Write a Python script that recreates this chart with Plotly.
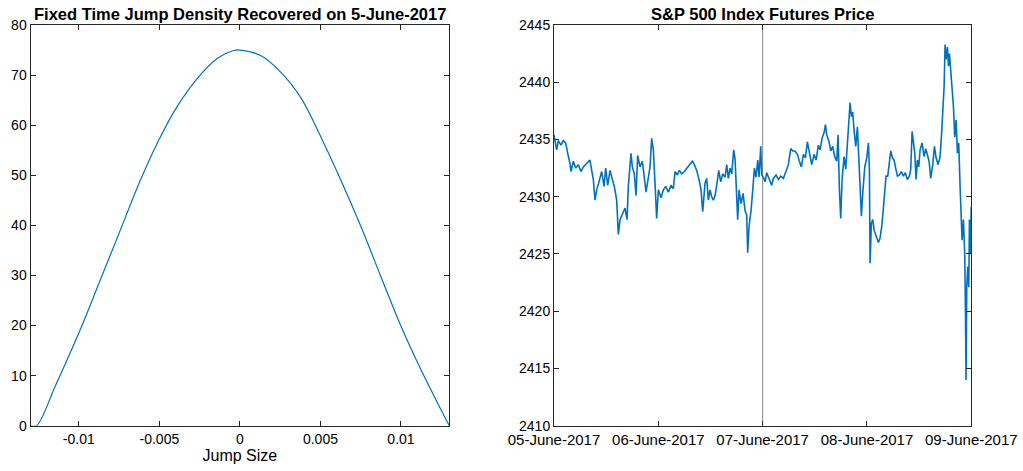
import plotly.graph_objects as go
import pandas as pd

# ---------------- Left panel data: jump density ----------------
jump_size = [-0.013, -0.01262, -0.01148, -0.00992, -0.00867, -0.00743, -0.00618,
             -0.00504, -0.00390, -0.00265, -0.00141, -0.0004, 0.0, 0.00129,
             0.00253, 0.00378, 0.00502, 0.00627, 0.00752, 0.00876, 0.01001,
             0.01125, 0.0125, 0.013]
density = [0, 0, 7.8, 19.1, 29.1, 39.0, 49.0,
           57.0, 63.7, 69.3, 73.3, 74.9, 75.0, 73.9,
           70.6, 65.5, 57.7, 49.0, 39.7, 29.7, 19.8,
           11.1, 3.1, 0]
jump_ticks = [-0.01, -0.005, 0, 0.005, 0.01]
jump_tick_text = ["-0.01", "-0.005", "0", "0.005", "0.01"]

# ---------------- Right panel data: S&P 500 futures ----------------
start_date = "2017-06-05"
# hours elapsed since 05-June-2017 00:00
price_hours = [
    0.00, 0.61, 1.00, 1.61, 2.15, 2.68, 3.15, 3.68, 3.91, 4.45,
    4.99, 5.60, 6.21, 6.75, 7.52, 8.28, 8.67, 9.05, 9.43, 9.82,
    10.35, 10.97, 11.51, 11.89, 12.35, 12.89, 13.42, 13.88, 14.42, 14.80,
    15.19, 15.72, 16.34, 16.80, 17.10, 17.72, 18.02, 18.48, 18.87, 19.25,
    19.79, 20.33, 20.79, 21.17, 21.71, 22.09, 22.47, 22.86, 23.24, 23.62,
    24.01, 24.62, 25.16, 25.70, 26.31, 26.92, 27.46, 27.84, 28.38, 28.84,
    29.38, 29.99, 30.60, 31.29, 31.83, 32.29, 32.83, 33.36, 33.83, 34.21,
    34.75, 35.13, 35.51, 35.90, 36.28, 36.66, 37.05, 37.51, 37.89, 38.35,
    38.81, 39.35, 39.73, 40.11, 40.50, 40.88, 41.34, 41.65, 41.96, 42.26,
    42.57, 43.03, 43.49, 43.95, 44.33, 44.56, 44.87, 45.33, 45.79, 46.10,
    46.48, 46.87, 47.17, 47.56, 47.79, 48.17,
    48.55, 48.94, 49.55, 50.09, 50.47, 51.08, 51.62, 52.16, 52.77, 53.38,
    53.92, 54.46, 54.92, 55.45, 55.99, 56.45, 56.91, 57.37, 57.83, 58.29,
    58.75, 59.29, 59.83, 60.29, 60.82, 61.21, 61.67, 62.13, 62.44, 62.74,
    63.28, 63.66, 64.12, 64.58, 65.04, 65.35, 65.66, 65.96, 66.27, 66.73,
    67.11, 67.50, 67.80, 68.11, 68.42, 68.72, 69.03, 69.42, 69.80, 70.11,
    70.41, 70.72, 71.03, 71.49, 71.95, 72.33, 72.56, 72.71, 73.02, 73.33,
    73.63, 74.09, 74.63, 75.01, 75.40, 75.70, 76.01, 76.39, 76.78, 77.16,
    77.47, 77.85, 78.23, 78.54, 79.00, 79.46, 79.92, 80.38, 80.84, 81.30,
    81.76, 82.07, 82.38, 82.68, 82.99, 83.30, 83.60, 83.91, 84.22, 84.68,
    85.14, 85.52, 85.91, 86.29, 86.67, 87.13, 87.52, 87.90, 88.36, 88.82,
    89.21, 89.44, 89.74,
    89.97, 90.20, 90.51, 90.74, 90.97, 91.27, 91.58, 91.89, 92.19, 92.50,
    92.81, 93.11, 93.42, 93.73, 93.88, 94.19, 94.49, 94.65, 94.80, 94.95,
    95.19, 95.42, 95.57, 95.80, 95.98]
price = [
    2435.4, 2434.1, 2434.9, 2434.5, 2434.9, 2434.7, 2433.8, 2432.9, 2432.2, 2433.1,
    2432.5, 2432.8, 2432.2, 2432.6, 2432.9, 2433.2, 2432.3, 2431.5, 2429.7, 2430.6,
    2431.3, 2432.2, 2430.9, 2432.5, 2431.0, 2432.3, 2431.5, 2430.9, 2429.7, 2426.7,
    2428.0, 2428.5, 2429.0, 2428.0, 2430.9, 2433.8, 2432.6, 2432.0, 2430.1, 2433.6,
    2432.6, 2433.1, 2431.5, 2430.4, 2431.7, 2432.6, 2435.1, 2434.1, 2431.2, 2428.1,
    2430.6, 2429.9, 2430.6, 2430.9, 2430.4, 2431.0, 2430.7, 2432.2, 2431.9, 2432.3,
    2432.0, 2432.2, 2432.5, 2432.8, 2433.1, 2432.8, 2432.3, 2431.5, 2430.6, 2428.7,
    2431.2, 2431.6, 2429.7, 2430.6, 2430.0, 2429.7, 2430.1, 2431.2, 2432.3, 2431.3,
    2432.0, 2431.7, 2432.8, 2431.6, 2432.5, 2432.0, 2434.1, 2433.3, 2431.2, 2428.0,
    2430.6, 2429.4, 2430.3, 2428.8, 2428.4, 2425.1, 2427.4, 2428.8, 2430.9, 2432.5,
    2431.7, 2433.2, 2431.7, 2434.4, 2431.9, 2431.7,
    2431.3, 2432.1, 2431.5, 2431.0, 2431.6, 2431.9, 2431.5, 2431.8, 2431.6, 2432.2,
    2432.8, 2434.2, 2434.0, 2434.0, 2433.7, 2433.1, 2432.6, 2433.7, 2433.4, 2434.8,
    2434.0, 2432.8, 2433.7, 2433.2, 2434.5, 2434.1, 2435.1, 2435.6, 2436.3, 2435.4,
    2434.8, 2434.0, 2434.4, 2433.5, 2433.1, 2435.4, 2430.6, 2428.1, 2431.5, 2433.5,
    2432.4, 2434.7, 2436.4, 2438.2, 2437.0, 2437.4, 2435.8, 2434.4, 2436.1, 2433.5,
    2430.6, 2428.3, 2430.3, 2432.6, 2433.4, 2434.7, 2432.4, 2424.2, 2427.7, 2428.0,
    2427.1, 2426.5, 2426.0, 2426.4, 2427.4, 2428.7, 2430.3, 2431.8, 2431.8, 2433.2,
    2434.0, 2433.4, 2433.2, 2432.6, 2431.8, 2431.9, 2432.2, 2431.8, 2432.1, 2431.5,
    2431.8, 2432.4, 2435.7, 2434.8, 2433.8, 2431.5, 2433.2, 2432.6, 2434.1, 2434.7,
    2433.5, 2434.2, 2433.7, 2433.1, 2431.6, 2432.8, 2434.4, 2433.4, 2432.8, 2433.5,
    2435.8, 2437.6, 2439.6,
    2443.3, 2442.0, 2443.1, 2441.4, 2442.5, 2440.8, 2439.6, 2437.9, 2435.2, 2436.7,
    2433.8, 2434.7, 2430.9, 2428.5, 2426.2, 2428.0, 2425.0, 2420.1, 2414.0, 2422.1,
    2423.9, 2422.1, 2428.0, 2425.0, 2429.1]
date_ticks = ["2017-06-05", "2017-06-06", "2017-06-07", "2017-06-08", "2017-06-09"]
date_tick_text = ["05-June-2017", "06-June-2017", "07-June-2017", "08-June-2017", "09-June-2017"]
marker_date = "2017-06-07"

t0 = pd.Timestamp(start_date)
times = [t0 + pd.Timedelta(hours=h) for h in price_hours]

BLUE = "#0072BD"
FONT = "Liberation Sans"
AX = "#262626"

fig = go.Figure()
fig.add_trace(go.Scatter(x=jump_size, y=density, mode="lines",
                         line=dict(color=BLUE, width=1.2, shape="spline", smoothing=1.0),
                         xaxis="x", yaxis="y", showlegend=False, hoverinfo="skip"))
fig.add_trace(go.Scatter(x=times, y=price, mode="lines",
                         line=dict(color=BLUE, width=1.6),
                         xaxis="x2", yaxis="y2", showlegend=False))

fig.add_shape(type="line", xref="x2", yref="y2 domain", x0=marker_date, x1=marker_date,
              y0=0, y1=1, line=dict(color="#8a8a8a", width=1), layer="below")

common = dict(showline=True, mirror="ticks", linecolor=AX, linewidth=1, ticks="inside",
              ticklen=5, tickcolor=AX, showgrid=False, zeroline=False, automargin=False,
              tickfont=dict(family=FONT, size=14, color="#000"))

ytop, ybot = 1 - 25 / 471, 1 - 425.7 / 471
date_common = dict(common)
date_common["tickfont"] = dict(family=FONT, size=15, color="#000")
fig.update_layout(
    width=1023, height=471,
    margin=dict(l=0, r=0, t=0, b=0),
    paper_bgcolor="white", plot_bgcolor="white",
    font=dict(family=FONT, size=14, color="#000"),
    xaxis=dict(domain=[30.5 / 1023, 449.3 / 1023], range=[-0.013, 0.013], anchor="y",
               tickmode="array", tickvals=jump_ticks, ticktext=jump_tick_text,
               title=dict(text="Jump Size", font=dict(family=FONT, size=16), standoff=4),
               **common),
    yaxis=dict(domain=[ybot, ytop], range=[0, 80], dtick=10, anchor="x", **common),
    xaxis2=dict(domain=[554 / 1023, 971.3 / 1023], type="date",
                range=[date_ticks[0], date_ticks[-1]], anchor="y2",
                tickmode="array", tickvals=date_ticks, ticktext=date_tick_text, **date_common),
    yaxis2=dict(domain=[ybot, ytop], range=[2410, 2445], dtick=5, anchor="x2", **common),
    annotations=[
        dict(text="<b>Fixed Time Jump Density Recovered on 5-June-2017</b>", xref="paper",
             yref="paper", x=240 / 1023, y=1 - 14.5 / 471, xanchor="center", yanchor="middle",
             showarrow=False, font=dict(family=FONT, size=16.5, color="#000")),
        dict(text="<b>S&P 500 Index Futures Price</b>", xref="paper", yref="paper",
             x=762.7 / 1023, y=1 - 14.5 / 471, xanchor="center", yanchor="middle",
             showarrow=False, font=dict(family=FONT, size=16.5, color="#000")),
    ],
)

fig.write_html("out.html", config={"displayModeBar": False},
               post_script="document.body.style.margin='0';document.body.style.padding='0';")
